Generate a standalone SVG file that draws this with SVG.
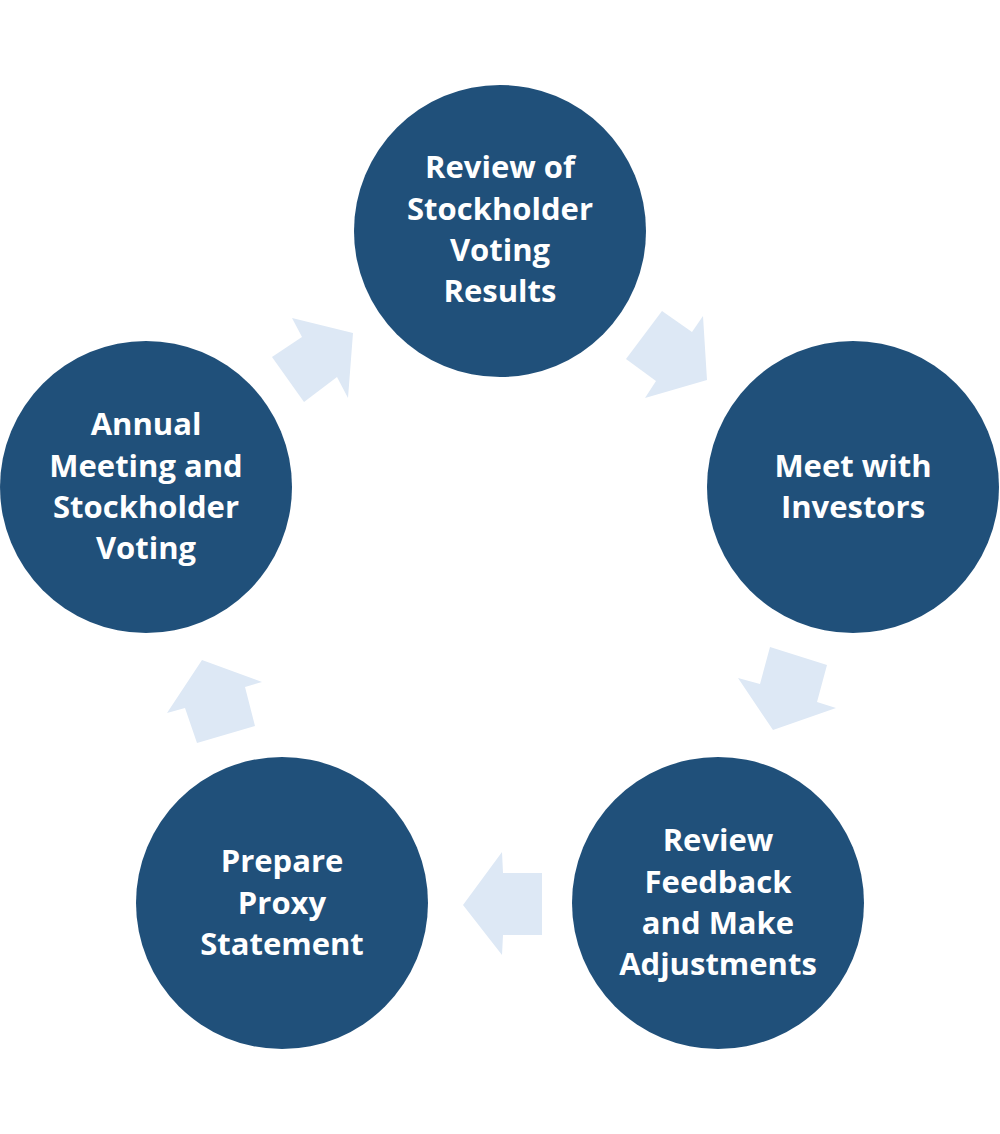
<svg xmlns="http://www.w3.org/2000/svg" width="1000" height="1134" viewBox="0 0 1000 1134">
<style>
.n{fill:#20507a}
.a{fill:#dde8f5}
.t{fill:#fff;font-family:"Open Sans","Liberation Sans",sans-serif;font-weight:700;font-size:31px;text-anchor:middle}
</style>
<rect width="1000" height="1134" fill="#fff"/>
<g id="connectors">
<polygon class="a" points="626,359 662,311 692,332 703,316 707,380 645,398 656,381"/>
<polygon class="a" points="770,647 827,665 817,702 836,708 773,730 738,678 760,684"/>
<polygon class="a" points="463,905 502,852 503,873 542,873 542,935 503,935 502,955"/>
<polygon class="a" points="202,660 262,682 245,687 255,726 197,743 185,708 167,713"/>
<polygon class="a" points="353,333 292,318 302,337 272,357 304,402 337,377 348,398"/>
</g>
<g id="n1"><circle class="n" cx="500" cy="231" r="146"/>
<text class="t" x="500" y="178">Review of</text><text class="t" x="500" y="220">Stockholder</text><text class="t" x="500" y="261">Voting</text><text class="t" x="500" y="302">Results</text></g>
<g id="n2"><circle class="n" cx="853" cy="487" r="146"/>
<text class="t" x="853" y="477">Meet with</text><text class="t" x="853" y="518">Investors</text></g>
<g id="n3"><circle class="n" cx="718" cy="903" r="146"/>
<text class="t" x="718" y="851">Review</text><text class="t" x="718" y="893">Feedback</text><text class="t" x="718" y="934">and Make</text><text class="t" x="718" y="975">Adjustments</text></g>
<g id="n4"><circle class="n" cx="282" cy="903" r="146"/>
<text class="t" x="282" y="872">Prepare</text><text class="t" x="282" y="914">Proxy</text><text class="t" x="282" y="955">Statement</text></g>
<g id="n5"><circle class="n" cx="146" cy="487" r="146"/>
<text class="t" x="146" y="435">Annual</text><text class="t" x="146" y="477">Meeting and</text><text class="t" x="146" y="518">Stockholder</text><text class="t" x="146" y="559">Voting</text></g>
</svg>
